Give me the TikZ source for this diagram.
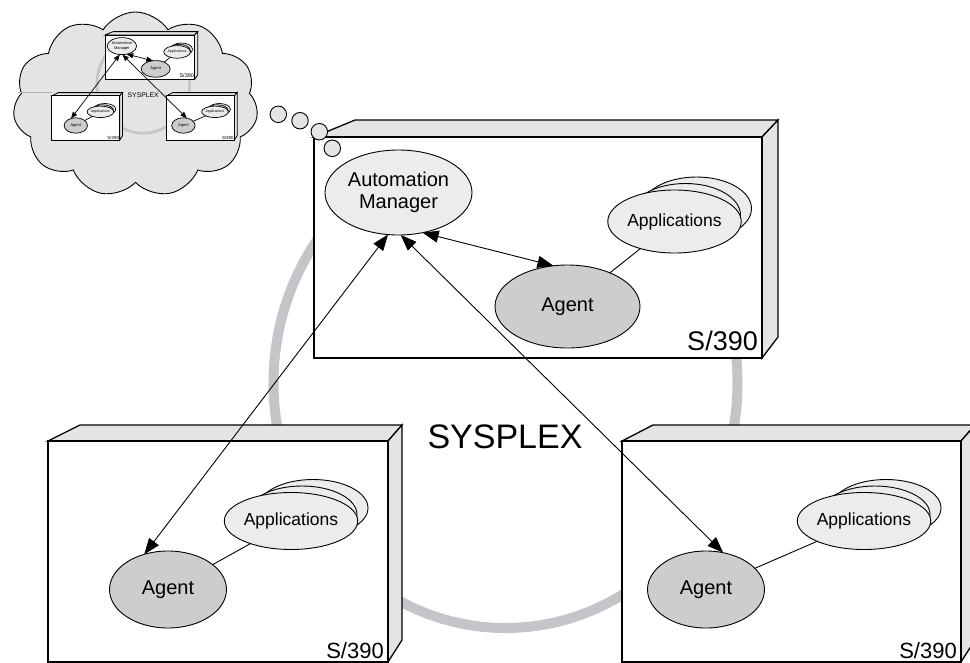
\documentclass[tikz,border=0pt]{standalone}
\usepackage{fontspec}
\setmainfont{Liberation Sans}
\usetikzlibrary{arrows.meta,shapes.geometric,shapes.symbols}
\definecolor{facegray}{HTML}{E4E4E6}
\definecolor{ringgray}{HTML}{C4C5C9}
\definecolor{lightfill}{HTML}{ECECEC}
\definecolor{agentfill}{HTML}{CDCDCD}
\definecolor{cloudfill}{HTML}{E4E4E4}

\newcommand\boxthreed[8]{%
  \filldraw[boxface] (#1,#3) -- (#6,#5) -- (#7,#5) -- (#2,#3) -- cycle;
  \filldraw[boxface] (#2,#3) -- (#7,#5) -- (#7,#8) -- (#2,#4) -- cycle;
  \filldraw[boxfront] (#1,#3) rectangle (#2,#4);
}

\newcommand\sysplexscene{%
  \draw[ringgray, line width=\rw] (505.5,383) ellipse [x radius=232, y radius=245];
  \boxthreed{314}{762}{137}{358}{120}{355}{778}{337}
  \boxthreed{48}{388}{441}{662}{425}{80}{402}{640}
  \boxthreed{622}{961}{441}{662}{425}{653}{975}{640}
  \node[font=\fontsize{34}{40}\selectfont] (sysplex) at (505,437) {SYSPLEX};
  \node[lbl, font=\fontsize{27}{30}\selectfont, anchor=base east] (s1) at (758,350) {S/390};
  \node[lbl, anchor=base east] (s2) at (384,658) {S/390};
  \node[lbl, anchor=base east] (s3) at (957,658) {S/390};
  % top unit
  \node[amell] (am) at (398.5,192.5) {Automation\\Manager};
  \node[agell, minimum width=145pt, minimum height=83pt] (agt) at (567.5,306.5) {Agent};
  \node[appell, minimum height=63pt] (appsc) at (696.5,208.5) {};
  \node[appell, minimum height=63pt] (appsb) at (685.5,215) {};
  \node[appell, minimum height=63pt] (apps) at (674.5,221.5) {Applications};
  \draw[conn] (agt) -- (apps);
  % bottom left unit
  \node[agell] (blagt) at (168,589.5) {Agent};
  \node[appell] (blappsc) at (313,508) {};
  \node[appell] (blappsb) at (302,514.5) {};
  \node[appell] (blapps) at (291,521) {Applications};
  \draw[conn] (blagt) -- (blapps);
  % bottom right unit
  \node[agell] (bragt) at (706,589.5) {Agent};
  \node[appell] (brappsc) at (886,508) {};
  \node[appell] (brappsb) at (875,514.5) {};
  \node[appell] (brapps) at (864,521) {Applications};
  \draw[conn] (bragt) -- (brapps);
  % arrows
  \draw[dbl] (am.-59) -- (agt.109.5);
  \draw[dbl] (am.-104) -- (blagt.124);
  \draw[dbl] (am.-87) -- (bragt.65);
}

\begin{document}
\begin{tikzpicture}[x=1pt,y=-1pt,
  boxface/.style={fill=facegray, draw=black, line width=\blw},
  boxfront/.style={fill=white, draw=black, line width=\blw},
  lbl/.style={font=\fontsize{22}{24}\selectfont, inner sep=0pt},
  ellbase/.style={ellipse, draw=black, line width=\alw, inner sep=0pt, outer sep=0pt, align=center},
  amell/.style={ellbase, fill=lightfill, minimum width=147pt, minimum height=85pt, font=\fontsize{20}{22}\selectfont},
  agell/.style={ellbase, fill=agentfill, minimum width=117pt, minimum height=77pt, font=\fontsize{20}{22}\selectfont},
  appell/.style={ellbase, fill=lightfill, minimum width=110pt, minimum height=57pt, font=\fontsize{17.5}{20}\selectfont},
  conn/.style={draw=black, line width=\alw},
  dbl/.style={{Triangle[length=\tl,width=\tw]}-{Triangle[length=\tl,width=\tw]}, line width=\alw},
  bubble/.style={circle, draw=black, fill=cloudfill, line width=0.9pt, minimum size=16.5pt, inner sep=0pt}
]
\useasboundingbox (0,0) rectangle (970,662);
\begin{scope}
  \clip (0,0) rectangle (970,662);
  \def\blw{1.3pt}\def\alw{0.9pt}\def\rw{10pt}\def\tl{16pt}\def\tw{12pt}
  \sysplexscene
\end{scope}
% thought cloud
\node[cloud, cloud puffs=11, cloud puff arc=115, aspect=1.3, draw=black, fill=cloudfill,
      line width=0.9pt, minimum width=245pt, minimum height=185pt, inner sep=0pt] (cloud) at (135.5,104.5) {};
\draw[gray!60, line width=0.6pt] (18,92) -- (52,92);
\begin{scope}[shift={(42.2,7.6)}, scale=0.2, transform shape, name prefix=mini-]
  \def\blw{0.8pt}\def\alw{0.7pt}\def\rw{2.7pt}\def\tl{6.5pt}\def\tw{5pt}
  \sysplexscene
\end{scope}
\node[bubble] (b1) at (278.3,114.3) {};
\node[bubble] (b2) at (300,120.7) {};
\node[bubble] (b3) at (319.3,131.7) {};
\node[bubble] (b4) at (332.3,148.3) {};
\end{tikzpicture}
\end{document}
